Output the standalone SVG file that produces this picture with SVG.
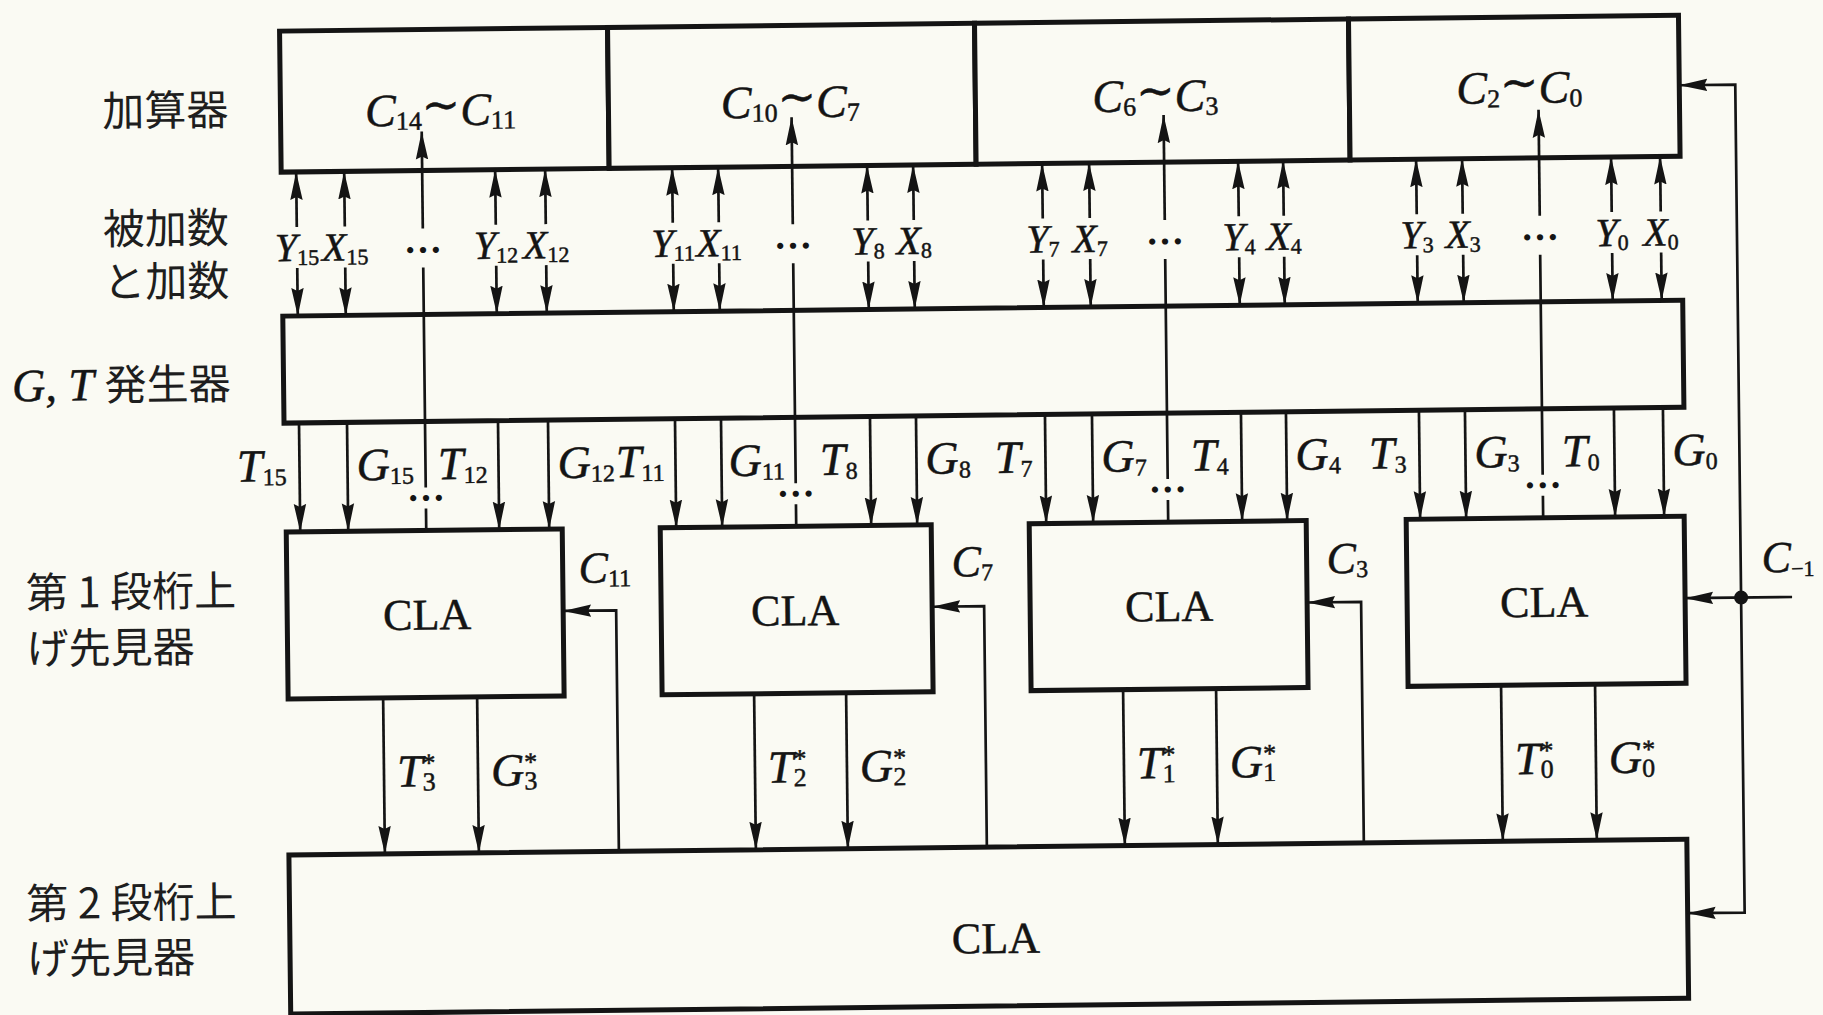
<svg xmlns="http://www.w3.org/2000/svg" width="1823" height="1015" viewBox="0 0 1823 1015">
<defs>
<style>
.bg{fill:#fafaf3}
.box{fill:#fafaf3;stroke:#141414;stroke-width:5}
.ln{fill:none;stroke:#141414;stroke-width:2.7}
.ar{marker-end:url(#ah)}
.m{font-family:"Liberation Serif","DejaVu Serif",serif;font-style:italic;fill:#141414;stroke:#141414;stroke-width:0.5}
.cla{font-family:"Liberation Serif",serif;font-size:44px;fill:#141414;stroke:#141414;stroke-width:0.5;text-anchor:middle}
.jp{font-family:"Noto Sans CJK JP","Noto Sans CJK SC",sans-serif;font-size:42px;fill:#1e1e1e}
.cc{font-size:46px;text-anchor:middle}
.yx{font-size:40px;text-anchor:middle}
.tg{font-size:46px}
.cl{font-size:44px}
.s1{font-size:26px;font-style:normal}
.s2{font-size:22px;font-style:normal}
.s3{font-size:24px;font-style:normal}
.dots{font-family:"Liberation Serif",serif;font-size:38px;font-weight:bold;text-anchor:middle;fill:#141414}
.tl{font-family:"DejaVu Serif",serif;font-style:normal}
.dot{fill:#141414}
</style>
<marker id="ah" markerUnits="userSpaceOnUse" markerWidth="30" markerHeight="14" refX="28" refY="7" orient="auto"><path d="M0,0.8 L28,7 L0,13.2 L3,7 Z" fill="#141414"/></marker>
</defs>
<rect class="bg" x="0" y="0" width="1823" height="1015"/>
<g transform="rotate(-0.65 911 507)">
<g id="row-labels">
<text class="jp" x="233" y="117" text-anchor="end">加算器</text>
<text class="jp" x="232" y="235" text-anchor="end">被加数</text>
<text class="jp" x="232" y="288" text-anchor="end">と加数</text>
<text class="jp" x="232" y="391" text-anchor="end"><tspan class="m" style="font-size:46px">G, T </tspan>発生器</text>
<text class="jp" x="25" y="598">第 1 段桁上</text>
<text class="jp" x="25" y="654">げ先見器</text>
<text class="jp" x="22" y="909">第 2 段桁上</text>
<text class="jp" x="22" y="964">げ先見器</text>
</g>
<g id="adder">
<g id="adder-c14-c11"><rect class="box" x="285" y="24" width="328" height="141"/>
<text class="m cc" x="445" y="120">C<tspan class="s1" dy="4">14</tspan><tspan class="tl" dy="-9">∼</tspan><tspan dy="5">C</tspan><tspan class="s1" dy="4">11</tspan></text></g>
<g id="adder-c10-c7"><rect class="box" x="613" y="24" width="367" height="141"/>
<text class="m cc" x="795" y="116">C<tspan class="s1" dy="4">10</tspan><tspan class="tl" dy="-9">∼</tspan><tspan dy="5">C</tspan><tspan class="s1" dy="4">7</tspan></text></g>
<g id="adder-c6-c3"><rect class="box" x="980" y="24" width="374" height="141"/>
<text class="m cc" x="1160" y="114">C<tspan class="s1" dy="4">6</tspan><tspan class="tl" dy="-9">∼</tspan><tspan dy="5">C</tspan><tspan class="s1" dy="4">3</tspan></text></g>
<g id="adder-c2-c0"><rect class="box" x="1354" y="24" width="330" height="141"/>
<text class="m cc" x="1524" y="110">C<tspan class="s1" dy="4">2</tspan><tspan class="tl" dy="-9">∼</tspan><tspan dy="5">C</tspan><tspan class="s1" dy="4">0</tspan></text></g>
</g>
<g id="gt-generator"><rect class="box" x="285" y="309" width="1400" height="107"/></g>
<g id="cla1-a"><rect class="box" x="286" y="525" width="276" height="167"/><text class="cla" x="426" y="624">CLA</text></g>
<g id="cla1-b"><rect class="box" x="660" y="525" width="271" height="167"/><text class="cla" x="794" y="624">CLA</text></g>
<g id="cla1-c"><rect class="box" x="1029" y="525" width="277" height="167"/><text class="cla" x="1168" y="624">CLA</text></g>
<g id="cla1-d"><rect class="box" x="1406" y="525" width="278" height="167"/><text class="cla" x="1543" y="624">CLA</text></g>
<g id="cla2"><rect class="box" x="285" y="848" width="1398" height="159"/><text class="cla" x="991" y="954">CLA</text></g>
<g id="connectors">
<path class="ln ar" d="M300,220V165"/><path class="ln ar" d="M348,220V165"/><path class="ln ar" d="M499,220V165"/><path class="ln ar" d="M549,220V165"/>
<path class="ln ar" d="M676,220V165"/><path class="ln ar" d="M722,220V165"/><path class="ln ar" d="M871,220V165"/><path class="ln ar" d="M917,220V165"/>
<path class="ln ar" d="M1046,220V165"/><path class="ln ar" d="M1093,220V165"/><path class="ln ar" d="M1242,220V165"/><path class="ln ar" d="M1287,220V165"/>
<path class="ln ar" d="M1420,220V165"/><path class="ln ar" d="M1466,220V165"/><path class="ln ar" d="M1615,220V165"/><path class="ln ar" d="M1664,220V165"/>
<path class="ln ar" d="M300,261V309"/><path class="ln ar" d="M348,261V309"/><path class="ln ar" d="M499,261V309"/><path class="ln ar" d="M549,261V309"/>
<path class="ln ar" d="M676,261V309"/><path class="ln ar" d="M722,261V309"/><path class="ln ar" d="M871,261V309"/><path class="ln ar" d="M917,261V309"/>
<path class="ln ar" d="M1046,261V309"/><path class="ln ar" d="M1093,261V309"/><path class="ln ar" d="M1242,261V309"/><path class="ln ar" d="M1287,261V309"/>
<path class="ln ar" d="M1420,261V309"/><path class="ln ar" d="M1466,261V309"/><path class="ln ar" d="M1615,261V309"/><path class="ln ar" d="M1664,261V309"/>
<path class="ln ar" d="M300,416V525"/><path class="ln ar" d="M348,416V525"/><path class="ln ar" d="M499,416V525"/><path class="ln ar" d="M549,416V525"/>
<path class="ln ar" d="M676,416V525"/><path class="ln ar" d="M722,416V525"/><path class="ln ar" d="M871,416V525"/><path class="ln ar" d="M917,416V525"/>
<path class="ln ar" d="M1046,416V525"/><path class="ln ar" d="M1093,416V525"/><path class="ln ar" d="M1242,416V525"/><path class="ln ar" d="M1287,416V525"/>
<path class="ln ar" d="M1420,416V525"/><path class="ln ar" d="M1466,416V525"/><path class="ln ar" d="M1615,416V525"/><path class="ln ar" d="M1664,416V525"/>
<path class="ln" d="M426,525V503M426,482V262M796,525V503M796,482V262M1168,525V503M1168,482V262M1543,525V503M1543,482V262"/>
<path class="ln ar" d="M426,223V126"/><path class="ln ar" d="M796,223V116"/><path class="ln ar" d="M1168,223V118"/><path class="ln ar" d="M1543,223V117"/>
<path class="ln ar" d="M381,692V848"/><path class="ln ar" d="M475,692V848"/><path class="ln ar" d="M752,692V848"/><path class="ln ar" d="M844,692V848"/>
<path class="ln ar" d="M1121,692V848"/><path class="ln ar" d="M1214,692V848"/><path class="ln ar" d="M1499,692V848"/><path class="ln ar" d="M1593,692V848"/>
<path class="ln ar" d="M615,848V607H562"/><path class="ln ar" d="M983,848V607H931"/><path class="ln ar" d="M1360,848V607H1306"/>
<path class="ln ar" d="M1791,607H1684"/>
<path class="ln ar" d="M1740,607V94H1684"/><path class="ln ar" d="M1740,607V922H1683"/>
<circle class="dot" cx="1740" cy="607" r="7"/>
</g>
<g id="connector-labels">
<text class="m yx" x="300" y="254">Y<tspan class="s2" dy="4">15</tspan></text>
<text class="m yx" x="348" y="254">X<tspan class="s2" dy="4">15</tspan></text>
<text class="m yx" x="499" y="254">Y<tspan class="s2" dy="4">12</tspan></text>
<text class="m yx" x="549" y="254">X<tspan class="s2" dy="4">12</tspan></text>
<text class="m yx" x="676" y="254">Y<tspan class="s2" dy="4">11</tspan></text>
<text class="m yx" x="722" y="254">X<tspan class="s2" dy="4">11</tspan></text>
<text class="m yx" x="871" y="254">Y<tspan class="s2" dy="4">8</tspan></text>
<text class="m yx" x="917" y="254">X<tspan class="s2" dy="4">8</tspan></text>
<text class="m yx" x="1046" y="254">Y<tspan class="s2" dy="4">7</tspan></text>
<text class="m yx" x="1093" y="254">X<tspan class="s2" dy="4">7</tspan></text>
<text class="m yx" x="1242" y="254">Y<tspan class="s2" dy="4">4</tspan></text>
<text class="m yx" x="1287" y="254">X<tspan class="s2" dy="4">4</tspan></text>
<text class="m yx" x="1420" y="254">Y<tspan class="s2" dy="4">3</tspan></text>
<text class="m yx" x="1466" y="254">X<tspan class="s2" dy="4">3</tspan></text>
<text class="m yx" x="1615" y="254">Y<tspan class="s2" dy="4">0</tspan></text>
<text class="m yx" x="1664" y="254">X<tspan class="s2" dy="4">0</tspan></text>
<text class="dots" x="426" y="247">…</text><text class="dots" x="796" y="247">…</text><text class="dots" x="1168" y="247">…</text><text class="dots" x="1543" y="247">…</text>
<text class="dots" x="426" y="495">…</text><text class="dots" x="796" y="495">…</text><text class="dots" x="1168" y="495">…</text><text class="dots" x="1543" y="495">…</text>
<text class="m tg" x="287" y="474" text-anchor="end">T<tspan class="s3" dy="4">15</tspan></text>
<text class="m tg" x="357" y="474">G<tspan class="s3" dy="4">15</tspan></text>
<text class="m tg" x="488" y="474" text-anchor="end">T<tspan class="s3" dy="4">12</tspan></text>
<text class="m tg" x="558" y="474">G<tspan class="s3" dy="4">12</tspan></text>
<text class="m tg" x="665" y="474" text-anchor="end">T<tspan class="s3" dy="4">11</tspan></text>
<text class="m tg" x="729" y="474">G<tspan class="s3" dy="4">11</tspan></text>
<text class="m tg" x="858" y="474" text-anchor="end">T<tspan class="s3" dy="4">8</tspan></text>
<text class="m tg" x="926" y="474">G<tspan class="s3" dy="4">8</tspan></text>
<text class="m tg" x="1033" y="474" text-anchor="end">T<tspan class="s3" dy="4">7</tspan></text>
<text class="m tg" x="1102" y="474">G<tspan class="s3" dy="4">7</tspan></text>
<text class="m tg" x="1229" y="474" text-anchor="end">T<tspan class="s3" dy="4">4</tspan></text>
<text class="m tg" x="1296" y="474">G<tspan class="s3" dy="4">4</tspan></text>
<text class="m tg" x="1407" y="474" text-anchor="end">T<tspan class="s3" dy="4">3</tspan></text>
<text class="m tg" x="1475" y="474">G<tspan class="s3" dy="4">3</tspan></text>
<text class="m tg" x="1600" y="474" text-anchor="end">T<tspan class="s3" dy="4">0</tspan></text>
<text class="m tg" x="1673" y="474">G<tspan class="s3" dy="4">0</tspan></text>
<text class="m tg" x="394" y="781">T<tspan class="s1" dy="-15">*</tspan><tspan class="s1" dx="-13" dy="19">3</tspan></text>
<text class="m tg" x="488" y="781">G<tspan class="s1" dy="-15">*</tspan><tspan class="s1" dx="-13" dy="19">3</tspan></text>
<text class="m tg" x="765" y="781">T<tspan class="s1" dy="-15">*</tspan><tspan class="s1" dx="-13" dy="19">2</tspan></text>
<text class="m tg" x="857" y="781">G<tspan class="s1" dy="-15">*</tspan><tspan class="s1" dx="-13" dy="19">2</tspan></text>
<text class="m tg" x="1134" y="781">T<tspan class="s1" dy="-15">*</tspan><tspan class="s1" dx="-13" dy="19">1</tspan></text>
<text class="m tg" x="1227" y="781">G<tspan class="s1" dy="-15">*</tspan><tspan class="s1" dx="-13" dy="19">1</tspan></text>
<text class="m tg" x="1512" y="781">T<tspan class="s1" dy="-15">*</tspan><tspan class="s1" dx="-13" dy="19">0</tspan></text>
<text class="m tg" x="1606" y="781">G<tspan class="s1" dy="-15">*</tspan><tspan class="s1" dx="-13" dy="19">0</tspan></text>
<text class="m cl" x="578" y="579">C<tspan class="s3" dy="4">11</tspan></text>
<text class="m cl" x="951" y="577">C<tspan class="s3" dy="4">7</tspan></text>
<text class="m cl" x="1326" y="578">C<tspan class="s3" dy="4">3</tspan></text>
<text class="m cl" x="1761" y="582">C<tspan class="s2" dy="4">−1</tspan></text>
</g>
</g>
</svg>
